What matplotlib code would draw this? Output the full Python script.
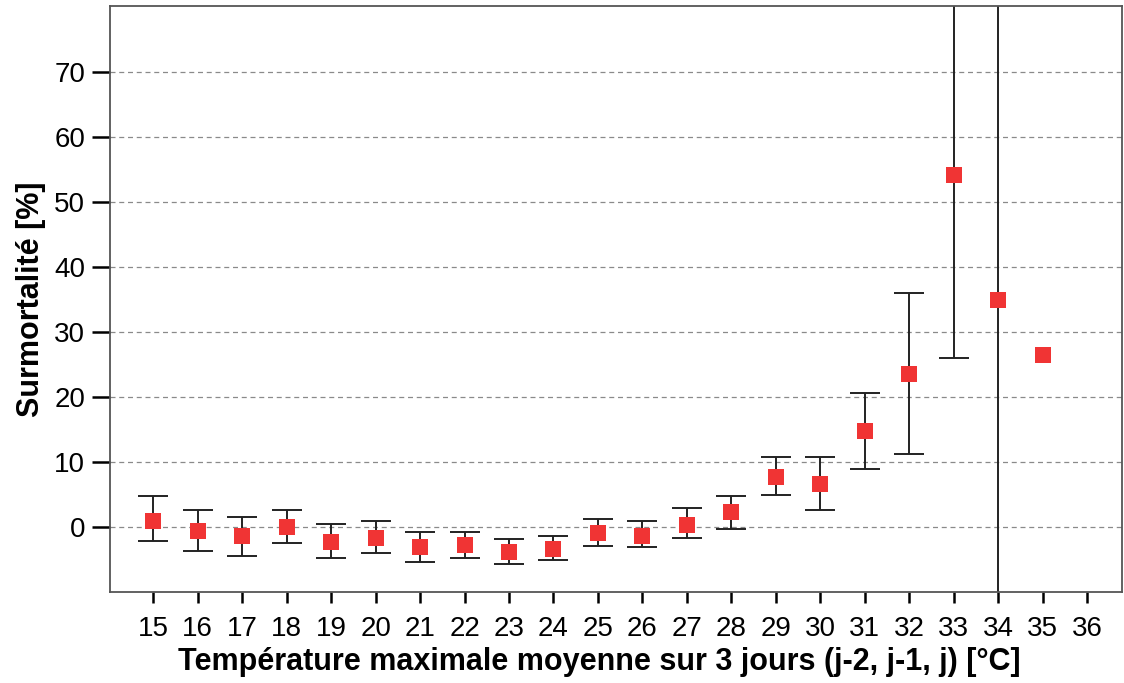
import matplotlib.pyplot as plt
import numpy as np

plt.rcParams['font.family'] = ['Liberation Sans', 'DejaVu Sans']

# temperature classes and excess mortality (%), with 95% CI bounds
temps = [15, 16, 17, 18, 19, 20, 21, 22, 23, 24, 25, 26, 27, 28, 29, 30, 31, 32, 33, 34, 35]
excess = [1.0, -0.6, -1.3, 0.1, -2.3, -1.6, -3.0, -2.8, -3.8, -3.3, -0.9, -1.3, 0.3, 2.3,
          7.7, 6.6, 14.8, 23.6, 54.2, 34.9, 26.5]
ci_low = [-2.1, -3.6, -4.4, -2.4, -4.8, -3.9, -5.3, -4.8, -5.6, -5.0, -2.9, -3.1, -1.7, -0.3,
          5.0, 2.6, 8.9, 11.3, 26.1, -40.0, np.nan]
ci_high = [4.8, 2.6, 1.6, 2.6, 0.5, 0.9, -0.8, -0.8, -1.8, -1.3, 1.2, 0.9, 2.9, 4.8,
           10.8, 10.8, 20.6, 36.0, 120.0, 150.0, np.nan]
xticks = list(range(15, 37))
yticks = list(range(0, 80, 10))

x = np.array(temps)
y = np.array(excess)
lo = np.array(ci_low)
hi = np.array(ci_high)
has_ci = ~np.isnan(lo)

fig = plt.figure(figsize=(11.24, 6.83), dpi=100)
ax = fig.add_axes([0.098, 0.133, 0.9, 0.858])

ax.set_axisbelow(True)
ax.yaxis.grid(True, linestyle=(0, (4, 3)), color='#8a8a8a', linewidth=0.9)

ax.errorbar(x[has_ci], y[has_ci],
            yerr=[y[has_ci] - lo[has_ci], hi[has_ci] - y[has_ci]],
            fmt='none', ecolor='#222222', elinewidth=1.4, capsize=11, capthick=1.4, zorder=2)
ax.plot(x, y, 's', color='#f03434', markersize=11.5, markeredgewidth=0, zorder=3)

ax.set_xlim(14.03, 36.78)
ax.set_ylim(-10, 80.2)
ax.set_xticks(xticks)
ax.set_yticks(yticks)
ax.tick_params(axis='y', length=13, width=1.8, labelsize=20, pad=5)
ax.tick_params(axis='x', length=8, width=1.8, labelsize=20, pad=9)
for s in ax.spines.values():
    s.set_color('#555555')
    s.set_linewidth(1.3)

ax.set_xlabel('Température maximale moyenne sur 3 jours (j-2, j-1, j) [°C]',
              fontsize=22, fontweight='bold', labelpad=4)
ax.xaxis.label.set_x(0.484)
ax.set_ylabel('Surmortalité [%]', fontsize=22, fontweight='bold', labelpad=6)

fig.savefig('out.png', dpi=100)
